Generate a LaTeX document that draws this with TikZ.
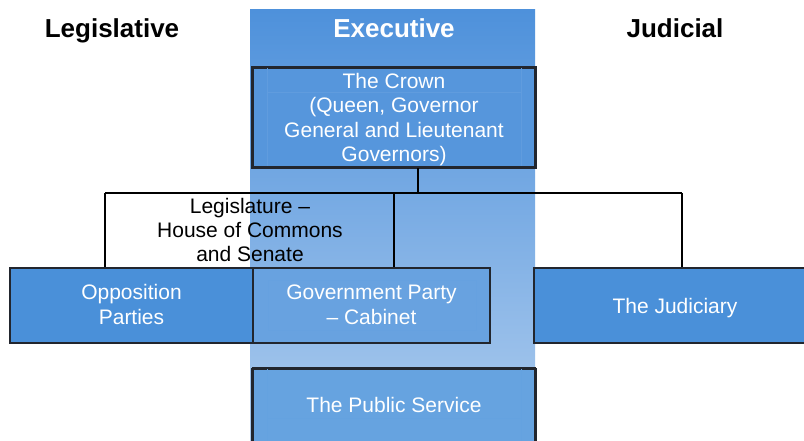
\documentclass[tikz,border=0pt]{standalone}
\usepackage{fontspec}
\setmainfont{Liberation Sans}
\definecolor{boxblue}{RGB}{74,144,217}
\definecolor{crownblue}{RGB}{86,150,220}
\definecolor{govblue}{RGB}{104,162,224}
\definecolor{psblue}{RGB}{102,163,224}
\definecolor{coltop}{RGB}{78,145,219}
\definecolor{colbot}{RGB}{172,203,238}
\definecolor{edge}{RGB}{34,38,46}
\begin{document}
\begin{tikzpicture}[x=1pt,y=-1pt,
  orgbox/.style={draw=edge, line width=2pt, inner sep=0pt},
  boxtext/.style={text=white, align=center, anchor=base, inner sep=0pt,
    font=\fontsize{21}{24.5}\selectfont},
  heading/.style={anchor=base, inner sep=0pt, font=\fontsize{26}{30}\selectfont\bfseries},
  link/.style={draw=black, line width=2pt},
  faint/.style={draw=#1, line width=0.6pt}]
\useasboundingbox (0,0) rectangle (804,441);
\fill[white] (0,0) rectangle (804,441);
% executive column
\shade[top color=coltop, bottom color=colbot] (250,10) rectangle (535,441);
% headings
\node[heading] (hleg) at (112,37.5) {Legislative};
\node[heading, text=white] (hexe) at (394,37.5) {Executive};
\node[heading] (hjud) at (675,37.5) {Judicial};
% crown
\node[orgbox, fill=crownblue, minimum width=282pt, minimum height=99pt] (crown) at (394,117.5) {};
\draw[faint=crownblue!94!white] (267,92) -- (521,92) (267,68) -- (267,166) (521,68) -- (521,166);
\node[boxtext] (crowntext) at (394,161.5) {The Crown\\(Queen, Governor\\General and Lieutenant\\Governors)};
\draw[edge, line width=2pt] (crown.north west) rectangle (crown.south east);
% lower boxes
\node[orgbox, fill=boxblue, minimum width=243pt, minimum height=75pt] (opp) at (131.5,305.5) {};
\node[boxtext] (opptext) at (131.5,324) {Opposition\\Parties};
\node[orgbox, fill=govblue, minimum width=237pt, minimum height=75pt] (gov) at (371.5,305.5) {};
\draw[faint=govblue!93!boxblue] (268,280) rectangle (476,330);
\node[boxtext] (govtext) at (371.5,324) {Government Party\\– Cabinet};
\node[orgbox, fill=boxblue, minimum width=282pt, minimum height=75pt] (jud) at (675,305.5) {};
\node[boxtext] (judtext) at (675,313) {The Judiciary};
\node[orgbox, fill=psblue, minimum width=282pt, minimum height=75pt] (ps) at (394,406.5) {};
\draw[faint=psblue!93!boxblue] (267,369) -- (267,441) (521,369) -- (521,441) (267,418) -- (521,418);
\node[boxtext] (pstext) at (394,412.5) {The Public Service};
\draw[edge, line width=2pt] (ps.north west) -- (ps.north east) (ps.north west) -- (ps.south west) (ps.north east) -- (ps.south east);
% legislature label
\node[boxtext, text=black, font=\fontsize{21}{24.3}\selectfont] (legis) at (250,261.6) {Legislature –\\House of Commons\\and Senate};
% connectors
\coordinate (j) at (418,193);
\coordinate (jl) at (105,193);
\coordinate (jm) at (394,193);
\coordinate (jr) at (682,193);
\draw[link] (crown.south -| j) -- (j);
\draw[link] (jl) -- (jr);
\draw[link] (jl) -- (jl |- opp.north);
\draw[link] (jm) -- (jm |- gov.north);
\draw[link] (jr) -- (jr |- jud.north);
\end{tikzpicture}
\end{document}
